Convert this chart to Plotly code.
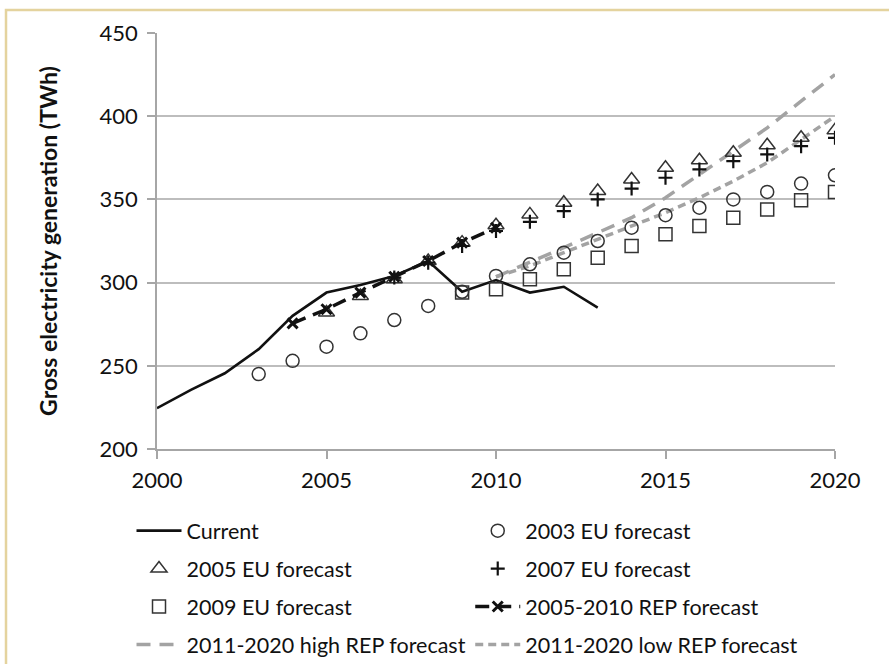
import plotly.graph_objects as go

# Gross electricity generation (TWh): observed values and successive forecasts
years_current = [2000, 2001, 2002, 2003, 2004, 2005, 2006, 2007, 2008, 2009, 2010, 2011, 2012, 2013]
current = [224.5, 235.5, 245.5, 260, 280, 294, 298.5, 304, 313, 294.5, 301.5, 294, 297.5, 285]

years_eu2003 = list(range(2003, 2021))
eu2003 = [245, 253, 261.5, 269.5, 277.5, 286, 294.5, 304, 311, 318, 325, 333, 340.5, 345, 350, 354.5, 359.5, 364.5]

years_eu2005 = list(range(2005, 2021))
eu2005 = [282, 292, 302, 313, 324, 334.5, 341, 348, 355, 362, 369, 373.5, 378, 382.5, 387, 391.5]

years_eu2007 = list(range(2007, 2021))
eu2007 = [303, 312, 322, 331, 336.5, 343, 350, 356.5, 363, 368, 373, 377, 382, 387]

years_eu2009 = list(range(2009, 2021))
eu2009 = [294, 296, 302, 308, 315, 322, 329, 334, 339, 344, 349.5, 354.5]

years_rep0510 = [2004, 2005, 2006, 2007, 2008, 2009, 2010]
rep0510 = [275.5, 284, 294, 303.5, 313, 324, 333]

years_rep1120 = list(range(2010, 2021))
rep_high = [303.5, 312, 321, 330, 339, 351, 365, 379, 393, 409, 425]
rep_low = [303.5, 310, 318, 326, 334, 342, 351, 361, 372, 386, 400]

FONT = "Lato"
INK = "#111111"
MARK = "#333333"
GREY_DASH = "#a3a3a3"

fig = go.Figure()

fig.add_trace(go.Scatter(
    x=years_rep1120, y=rep_high, mode="lines", name="2011-2020 high REP forecast",
    line=dict(color=GREY_DASH, width=3.5, dash="14px,9px"),
    legend="legend", legendgroup="g4", legendrank=4))
fig.add_trace(go.Scatter(
    x=years_rep1120, y=rep_low, mode="lines", name="2011-2020 low REP forecast",
    line=dict(color=GREY_DASH, width=3.5, dash="8px,5px"),
    legend="legend2", legendgroup="h4", legendrank=4))

fig.add_trace(go.Scatter(
    x=years_current, y=current, mode="lines", name="Current",
    line=dict(color="#111111", width=2.6),
    legend="legend", legendgroup="g1", legendrank=1))

fig.add_trace(go.Scatter(
    x=years_eu2003, y=eu2003, mode="markers", name="2003 EU forecast",
    marker=dict(symbol="circle-open", size=13, color=MARK, line=dict(width=1.5)),
    legend="legend2", legendgroup="h1", legendrank=1))

fig.add_trace(go.Scatter(
    x=years_eu2009, y=eu2009, mode="markers", name="2009 EU forecast",
    marker=dict(symbol="square-open", size=13, color=MARK, line=dict(width=1.5)),
    legend="legend", legendgroup="g3", legendrank=3))

fig.add_trace(go.Scatter(
    x=years_eu2005, y=eu2005, mode="markers", name="2005 EU forecast",
    marker=dict(symbol="triangle-up-open", size=14, color=MARK, line=dict(width=1.5)),
    legend="legend", legendgroup="g2", legendrank=2))

fig.add_trace(go.Scatter(
    x=years_eu2007, y=eu2007, mode="markers", name="2007 EU forecast",
    marker=dict(symbol="cross-thin", size=10, color="#111111", line=dict(width=2.2, color="#111111")),
    legend="legend2", legendgroup="h2", legendrank=2))

fig.add_trace(go.Scatter(
    x=years_rep0510, y=rep0510, mode="lines+markers", name="2005-2010 REP forecast",
    line=dict(color="#111111", width=3.5, dash="14px,8px"),
    marker=dict(symbol="x-thin", size=10, color="#111111", line=dict(width=3, color="#111111")),
    legend="legend2", legendgroup="h3", legendrank=3))

legend_common = dict(
    orientation="v", yanchor="top", xanchor="left",
    bgcolor="rgba(0,0,0,0)", borderwidth=0,
    font=dict(family=FONT, size=21.5, color=INK),
    itemwidth=45, tracegroupgap=7, traceorder="grouped",
)

fig.update_layout(
    width=889, height=664,
    margin=dict(l=157, r=54, t=33, b=215, autoexpand=False),
    paper_bgcolor="white", plot_bgcolor="white",
    font=dict(family=FONT, size=21, color=INK),
    showlegend=True,
    legend=dict(x=-0.0376, y=-0.147, **legend_common),
    legend2=dict(x=0.462, y=-0.147, **legend_common),
    xaxis=dict(
        range=[2000, 2020], tickmode="array", tickvals=[2000, 2005, 2010, 2015, 2020],
        showgrid=False, zeroline=False,
        showline=True, linecolor="#a6a6a6", linewidth=1.5,
        ticks="outside", ticklen=8, tickcolor="#a6a6a6", tickwidth=1.5,
        tickfont=dict(family=FONT, size=22, color=INK), ticklabelstandoff=3,
    ),
    yaxis=dict(
        range=[200, 450], tickmode="array", tickvals=[200, 250, 300, 350, 400, 450],
        showgrid=True, gridcolor="#bdbdbd", gridwidth=1.5, zeroline=False,
        showline=True, linecolor="#a6a6a6", linewidth=1.5,
        ticks="outside", ticklen=8, tickcolor="#a6a6a6", tickwidth=1.5,
        tickfont=dict(family=FONT, size=22, color=INK), ticklabelstandoff=5,
        title=dict(text="<b>Gross electricity generation (TWh)</b>",
                   font=dict(family=FONT, size=23, color=INK), standoff=36),
    ),
    shapes=[dict(
        type="rect", xref="paper", yref="paper",
        x0=-0.2227, x1=1.2, y0=-0.7, y1=1.0553,
        line=dict(color="#e4d39e", width=2.5), fillcolor="rgba(0,0,0,0)", layer="below",
    )],
)

fig.write_html("out.html")
